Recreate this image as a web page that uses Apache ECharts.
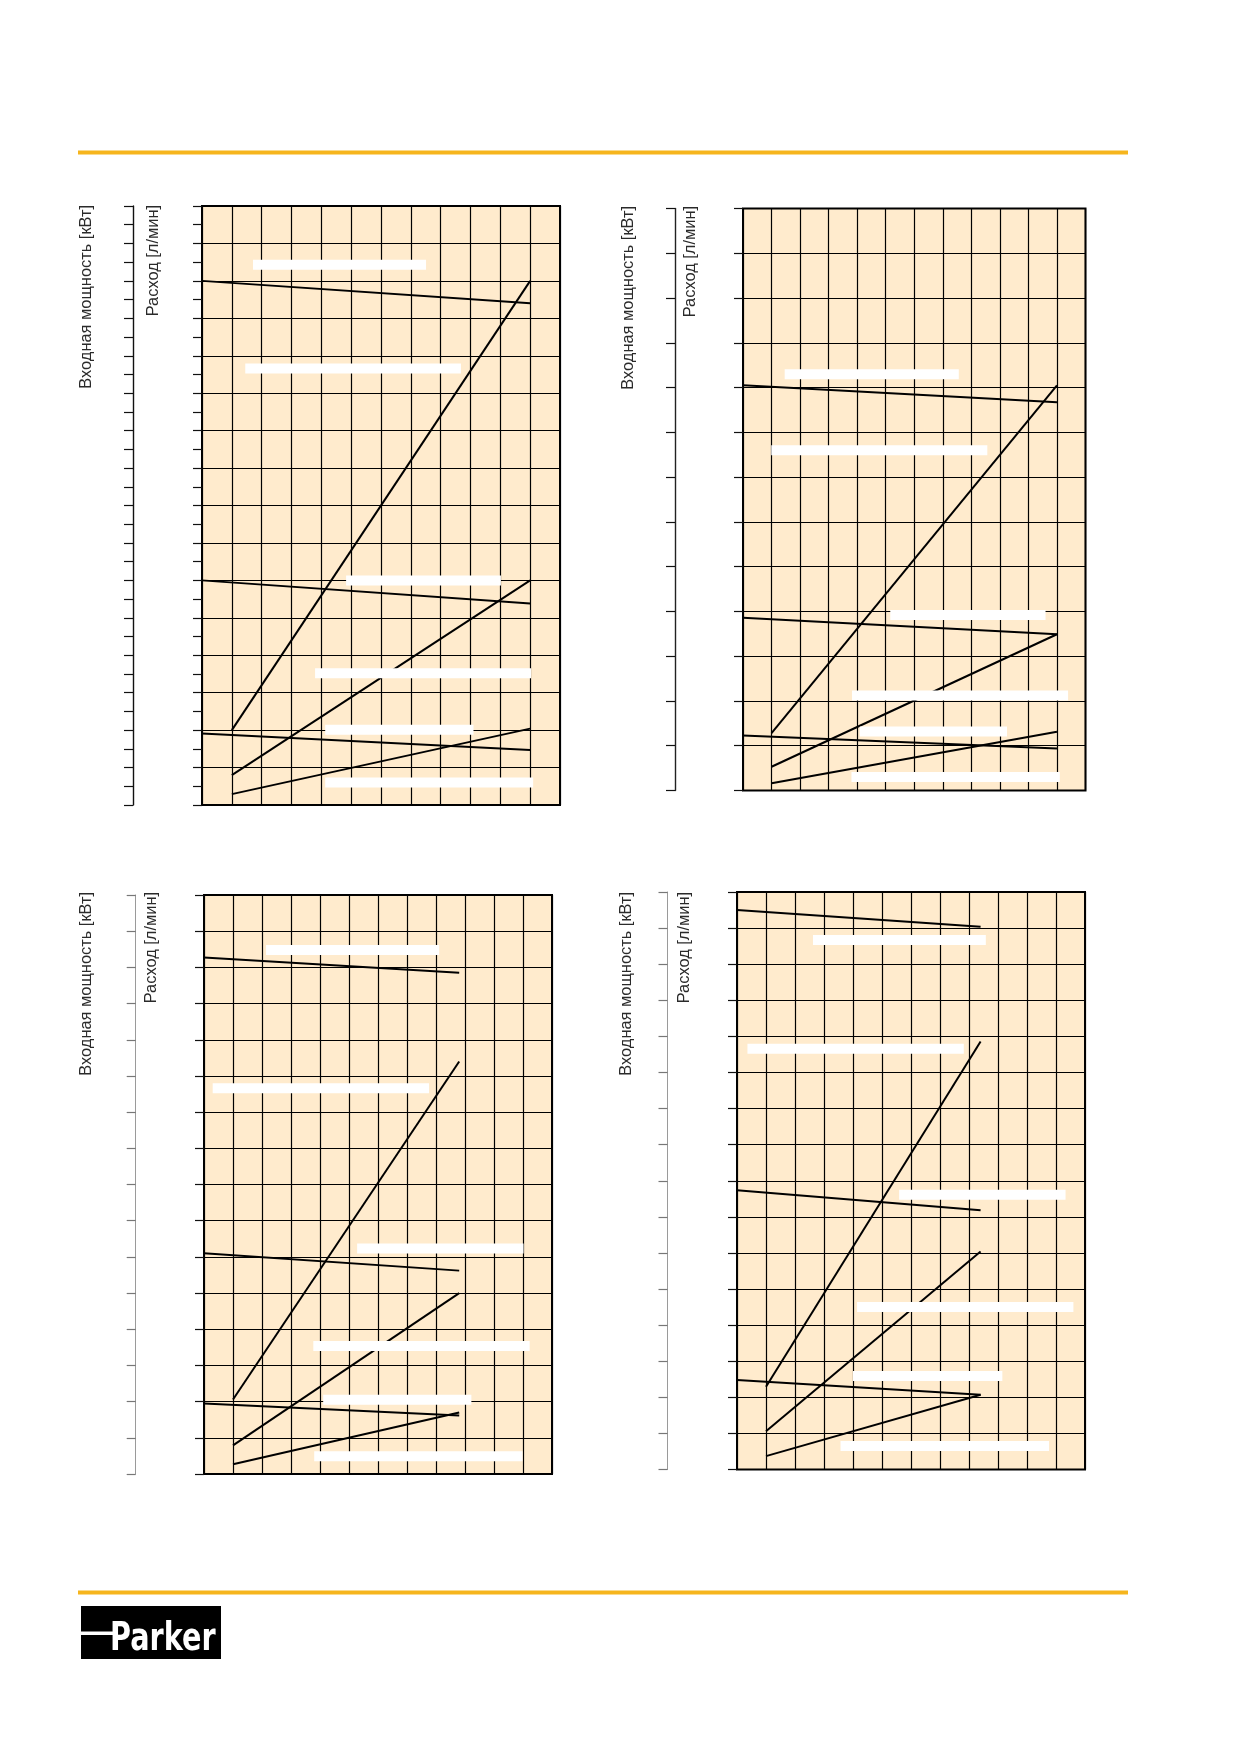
<!DOCTYPE html>
<html>
<head>
<meta charset="utf-8">
<style>
  html, body { margin: 0; padding: 0; background: #ffffff; }
  #main { width: 1239px; height: 1752px; }
</style>
<script src="https://cdn.jsdelivr.net/npm/echarts@6/dist/echarts.min.js"></script>
</head>
<body>
<div id="main"></div>
<script>
// ---------- DATA (grid units: x = column, y = row from bottom) ----------
const xColumns = 12;
const chartRows = [16, 13, 16, 16];
const tickSteps = [0.5, 1, 1, 1];

const titlePower = 'Входная мощность [кВт]';
const titleFlow = 'Расход [л/мин]';

// Curves: [[x1, y1], [x2, y2]]
const chart1Lines = [
  [[0, 14.00], [11, 13.40]],
  [[1, 2.00], [11, 14.00]],
  [[0, 6.00], [11, 5.38]],
  [[1, 0.80], [11, 6.00]],
  [[0, 1.91], [11, 1.47]],
  [[1, 0.29], [11, 2.04]]
];
const chart2Lines = [
  [[0, 9.05], [11, 8.67]],
  [[1, 1.28], [11, 9.05]],
  [[0, 3.86], [11, 3.49]],
  [[1, 0.53], [11, 3.49]],
  [[0, 1.23], [11, 0.94]],
  [[1, 0.16], [11, 1.31]]
];
const chart3Lines = [
  [[0, 14.27], [8.8, 13.85]],
  [[1, 2.06], [8.8, 11.40]],
  [[0, 6.10], [8.8, 5.62]],
  [[1, 0.79], [8.8, 5.00]],
  [[0, 1.95], [8.8, 1.62]],
  [[1, 0.27], [8.8, 1.70]]
];
const chart4Lines = [
  [[0, 15.50], [8.4, 15.04]],
  [[1, 2.29], [8.4, 11.86]],
  [[0, 7.74], [8.4, 7.18]],
  [[1, 1.06], [8.4, 6.04]],
  [[0, 2.48], [8.4, 2.07]],
  [[1, 0.37], [8.4, 2.07]]
];

// Blanked label boxes: [xStart, xEnd, y]
const chart1Boxes = [
  [1.71, 7.51, 14.43], [1.45, 8.68, 11.66], [4.83, 10.02, 6.00],
  [3.79, 11.03, 3.52], [4.13, 9.10, 2.01], [4.13, 11.10, 0.60]
];
const chart2Boxes = [
  [1.46, 7.56, 9.30], [0.99, 8.56, 7.60], [5.16, 10.60, 3.92],
  [3.82, 11.39, 2.12], [4.09, 9.25, 1.32], [3.80, 11.10, 0.30]
];
const chart3Boxes = [
  [2.14, 8.11, 14.48], [0.30, 7.76, 10.66], [5.28, 11.02, 6.23],
  [3.77, 11.23, 3.54], [4.11, 9.22, 2.05], [3.80, 10.98, 0.49]
];
const chart4Boxes = [
  [2.62, 8.58, 14.67], [0.36, 7.82, 11.66], [5.59, 11.33, 7.61],
  [4.14, 11.60, 4.50], [4.00, 9.15, 2.59], [3.57, 10.76, 0.65]
];

// ---------- LAYOUT ----------
const grids = [
  { left: 202, top: 206, width: 358, height: 599 },
  { left: 743, top: 208.5, width: 342.5, height: 582 },
  { left: 204, top: 895, width: 348, height: 579 },
  { left: 737, top: 892, width: 348, height: 577.5 }
];
const outerOffsets = [69, 68, 68.3, 69.5];
const outerColors = ['#111', '#222', '#9a9a9a', '#9a9a9a'];
const titlePos = [
  { p: [86.5, 205], f: [153.5, 205] },
  { p: [628, 206], f: [690.5, 206] },
  { p: [86, 892], f: [151, 892] },
  { p: [626, 892], f: [684, 892] }
];

const allLines = [chart1Lines, chart2Lines, chart3Lines, chart4Lines];
const allBoxes = [chart1Boxes, chart2Boxes, chart3Boxes, chart4Boxes];

const chart = echarts.init(document.getElementById('main'), null, { renderer: 'canvas' });

const gridOpt = [], xAxes = [], yAxes = [], series = [];
grids.forEach((g, i) => {
  gridOpt.push(Object.assign({
    show: true, backgroundColor: '#FFEBCD', borderColor: '#000', borderWidth: 2, containLabel: false
  }, g));
  xAxes.push({
    type: 'value', gridIndex: i, min: 0, max: xColumns, interval: 1,
    axisLine: { show: false }, axisTick: { show: false }, axisLabel: { show: false },
    splitLine: { show: true, lineStyle: { color: '#000', width: 1.2 } }
  });
  const rows = chartRows[i];
  // grid lines axis
  yAxes.push({
    type: 'value', gridIndex: i, min: 0, max: rows, interval: 1, position: 'left',
    axisLine: { show: false }, axisTick: { show: false }, axisLabel: { show: false },
    splitLine: { show: true, lineStyle: { color: '#000', width: 1.2 } }
  });
  // inner tick axis
  yAxes.push({
    type: 'value', gridIndex: i, min: 0, max: rows, interval: tickSteps[i], position: 'left', offset: 0,
    axisLine: { show: false },
    axisTick: { show: true, inside: false, length: 9, lineStyle: { color: '#111', width: 1.2 } },
    axisLabel: { show: false }, splitLine: { show: false }
  });
  // outer axis
  yAxes.push({
    type: 'value', gridIndex: i, min: 0, max: rows, interval: tickSteps[i], position: 'left', offset: outerOffsets[i],
    axisLine: { show: true, lineStyle: { color: outerColors[i], width: i < 2 ? 1.4 : 1 } },
    axisTick: { show: true, inside: false, length: 9, lineStyle: { color: i < 2 ? '#111' : '#777', width: 1.2 } },
    axisLabel: { show: false }, splitLine: { show: false }
  });

  allLines[i].forEach((seg) => {
    series.push({
      type: 'line', xAxisIndex: i, yAxisIndex: i * 3, data: seg,
      symbol: 'none', silent: true, animation: false, z: 3,
      lineStyle: { color: '#000', width: 2 }
    });
  });
  allBoxes[i].forEach((b) => {
    series.push({
      type: 'line', xAxisIndex: i, yAxisIndex: i * 3, data: [[b[0], b[2]], [b[1], b[2]]],
      symbol: 'none', silent: true, animation: false, z: 5,
      lineStyle: { color: '#ffffff', width: 10, cap: 'butt' }
    });
  });
});

const graphic = [
  { type: 'rect', shape: { x: 78, y: 150.5, width: 1050, height: 4 }, style: { fill: '#F6B51D' } },
  { type: 'rect', shape: { x: 78, y: 1590.5, width: 1050, height: 4 }, style: { fill: '#F6B51D' } },
  { type: 'rect', shape: { x: 81, y: 1606, width: 140, height: 53 }, style: { fill: '#000' } },
  { type: 'rect', shape: { x: 81, y: 1631.5, width: 32, height: 3.5 }, style: { fill: '#fff' } },
  { type: 'text', x: 110, y: 1640, scaleX: 0.735, scaleY: 1,
    style: { text: 'Parker', fill: '#fff', font: 'bold 39px "DejaVu Sans"', align: 'left', verticalAlign: 'middle' } }
];
titlePos.forEach((t) => {
  graphic.push({ type: 'text', x: t.p[0], y: t.p[1], rotation: Math.PI / 2,
    style: { text: titlePower, fill: '#2a2a2a', font: '16.4px "Liberation Sans"', align: 'right', verticalAlign: 'middle' } });
  graphic.push({ type: 'text', x: t.f[0], y: t.f[1], rotation: Math.PI / 2,
    style: { text: titleFlow, fill: '#2a2a2a', font: '16.4px "Liberation Sans"', align: 'right', verticalAlign: 'middle' } });
});

chart.setOption({
  animation: false,
  backgroundColor: '#ffffff',
  grid: gridOpt,
  xAxis: xAxes,
  yAxis: yAxes,
  series: series,
  graphic: graphic
});
</script>
</body>
</html>
